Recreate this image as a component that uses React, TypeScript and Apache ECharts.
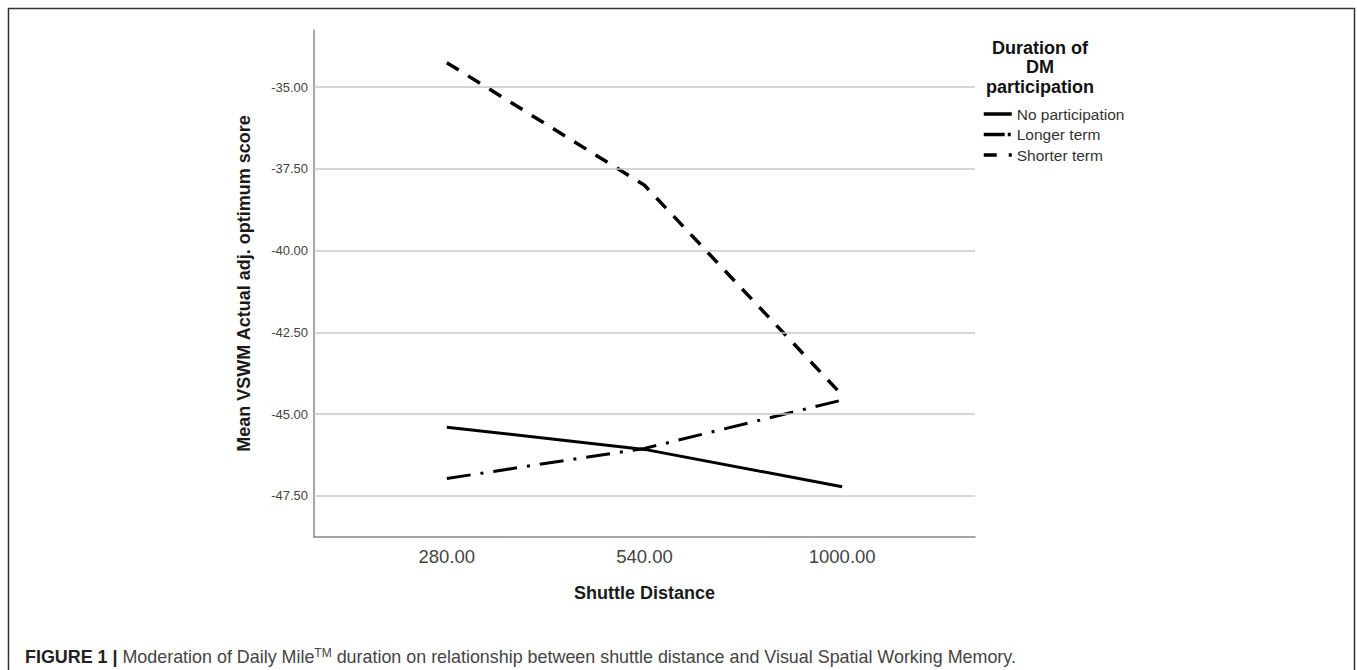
import React, { useEffect, useRef } from "react";
import * as echarts from "echarts";

const distanceLabels = ["280.00", "540.00", "1000.00"];
const noParticipation = [-45.4, -46.08, -47.22];
const longerTerm = [-46.97, -46.05, -44.57];
const shorterTerm = [-34.25, -38.0, -44.42];
const yTicks = [-47.5, -45, -42.5, -40, -37.5, -35];
const legendTitle = "Duration of\nDM\nparticipation";
const seriesNames = ["No participation", "Longer term", "Shorter term"];

const FONT = "'Liberation Sans', Arial, Helvetica, sans-serif";

export default function App() {
  const ref = useRef<HTMLDivElement>(null);
  useEffect(() => {
    if (!ref.current) return;
    const chart = echarts.init(ref.current, null, { renderer: "svg" });
    const toPts = (arr: number[]) => arr.map((v, i) => [i, v]);
    const legendDash: any[] = ["solid", [21, 3, 3, 100], [13, 12, 3, 100]];
    const option: any = {
      animation: false,
      backgroundColor: "#ffffff",
      textStyle: { fontFamily: FONT },
      grid: { left: 314, right: 382, top: 30, bottom: 133 },
      xAxis: {
        type: "value",
        min: -0.672,
        max: 2.672,
        name: "Shuttle Distance",
        nameLocation: "middle",
        nameGap: 47,
        nameTextStyle: { fontFamily: FONT, fontSize: 18, fontWeight: "bold", color: "#1a1a1a" },
        axisLine: { show: true, onZero: false, lineStyle: { color: "#888888", width: 1.5 } },
        axisTick: { show: false },
        splitLine: { show: false },
        axisLabel: {
          customValues: [0, 1, 2],
          formatter: (v: number) => distanceLabels[Math.round(v)] ?? "",
          fontFamily: FONT,
          fontSize: 18.5,
          color: "#444444",
          margin: 10,
        },
      },
      yAxis: {
        type: "value",
        min: -48.76,
        max: -33.25,
        name: "Mean VSWM Actual adj. optimum score",
        nameLocation: "middle",
        nameGap: 61,
        nameTextStyle: { fontFamily: FONT, fontSize: 18, fontWeight: "bold", color: "#1a1a1a" },
        axisLine: { show: true, onZero: false, lineStyle: { color: "#888888", width: 1.5 } },
        axisTick: { show: false },
        splitLine: { show: false },
        axisLabel: {
          customValues: yTicks,
          formatter: (v: number) => v.toFixed(2),
          fontFamily: FONT,
          fontSize: 13,
          color: "#444444",
          margin: 6,
        },
      },
      legend: {
        data: seriesNames.map((name, i) => ({
          name,
          lineStyle: { width: 3.5, color: "#000000", type: legendDash[i] },
        })),
        orient: "vertical",
        left: 982,
        top: 106,
        padding: 0,
        itemWidth: 28,
        itemHeight: 14,
        itemGap: 4.5,
        itemStyle: { color: "rgba(0,0,0,0)", borderWidth: 0, opacity: 0 },
        lineStyle: { width: 3.5 },
        textStyle: { fontFamily: FONT, fontSize: 15.5, color: "#333333", lineHeight: 16 },
      },
      graphic: [
        {
          type: "rect",
          shape: { x: 8.5, y: 8.5, width: 1346, height: 700 },
          style: { fill: "none", stroke: "#333333", lineWidth: 1.5 },
          silent: true,
          z: -10,
        },
        {
          type: "text",
          x: 1040,
          y: 38,
          style: {
            text: legendTitle,
            font: `bold 18px ${FONT}`,
            fill: "#111111",
            textAlign: "center",
            textVerticalAlign: "top",
            lineHeight: 19.5,
          },
        },
        {
          type: "text",
          x: 25,
          y: 657,
          style: {
            text:
              "{b|FIGURE 1 |}{n| Moderation of Daily Mile}{sup|TM}{n| duration on relationship between shuttle distance and Visual Spatial Working Memory.}",
            textVerticalAlign: "middle",
            rich: {
              b: { fontFamily: FONT, fontSize: 17.9, fontWeight: "bold", fill: "#222222", lineHeight: 20 },
              n: { fontFamily: FONT, fontSize: 17.9, fill: "#444444", lineHeight: 20 },
              sup: { fontFamily: FONT, fontSize: 12, fill: "#444444", verticalAlign: "top", lineHeight: 12 },
            },
          },
        },
      ],
      series: [
        {
          type: "line",
          name: "__grid",
          data: [],
          z: 1,
          silent: true,
          markLine: {
            silent: true,
            symbol: "none",
            label: { show: false },
            lineStyle: { color: "#c8c8c8", type: "solid", width: 1.5 },
            data: yTicks.map((v) => ({ yAxis: v })),
          },
        },
        {
          type: "line",
          name: seriesNames[0],
          data: toPts(noParticipation),
          symbol: "none",
          z: 3,
          lineStyle: { color: "#000000", width: 3, type: "solid" },
          itemStyle: { color: "#000000" },
        },
        {
          type: "line",
          name: seriesNames[1],
          data: toPts(longerTerm),
          symbol: "none",
          z: 3,
          lineStyle: { color: "#000000", width: 3, type: [24, 10, 3, 10] },
          itemStyle: { color: "#000000" },
        },
        {
          type: "line",
          name: seriesNames[2],
          data: toPts(shorterTerm),
          symbol: "none",
          z: 3,
          lineStyle: { color: "#000000", width: 3.5, type: [14, 11] },
          itemStyle: { color: "#000000" },
        },
      ],
    };
    chart.setOption(option);
    return () => chart.dispose();
  }, []);
  return (
    <div
      ref={ref}
      style={{ position: "fixed", left: 0, top: 0, width: 1357, height: 670, background: "#fff" }}
    />
  );
}
